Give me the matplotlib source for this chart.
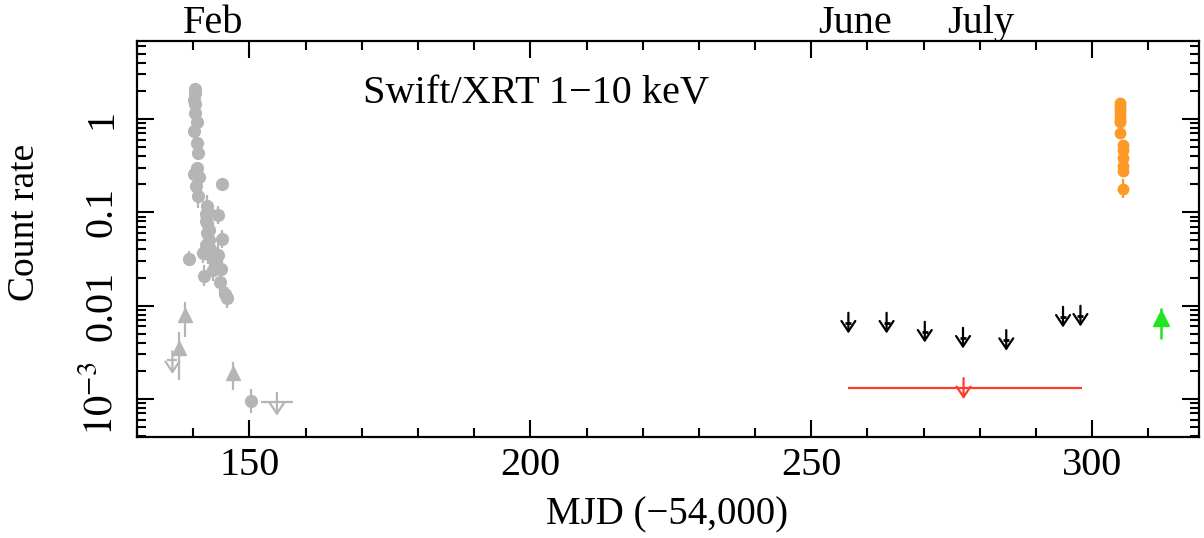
import numpy as np
import matplotlib
matplotlib.use("Agg")
import matplotlib.pyplot as plt
from matplotlib.ticker import FixedLocator, FuncFormatter, MultipleLocator, LogLocator, NullFormatter
import matplotlib.transforms as mtransforms

plt.rcParams['font.family'] = ['Liberation Serif', 'DejaVu Serif']
plt.rcParams['mathtext.fontset'] = 'stix'

# ---- data (MJD-54000, count rate) ----
grey_t = [140.3, 140.4, 140.2, 140.3, 140.3, 140.6, 140.2, 140.6, 140.9, 140.6,
          140.1, 141.0, 140.5, 140.8, 145.2, 142.5, 142.2, 144.5, 142.5, 142.5,
          142.9, 145.2, 139.3, 141.8, 142.6, 143.5, 144.4, 142.0, 143.5, 145.0,
          144.7, 145.7, 146.0, 142.3, 143.0, 144.0, 143.8, 142.8, 142.3, 142.7,
          150.3]
grey_v = [2.1, 1.9, 1.6, 1.45, 1.15, 0.92, 0.74, 0.56, 0.43, 0.30,
          0.26, 0.24, 0.19, 0.15, 0.20, 0.118, 0.097, 0.094, 0.076, 0.060,
          0.050, 0.052, 0.032, 0.037, 0.036, 0.033, 0.035, 0.021, 0.024, 0.0245,
          0.018, 0.0135, 0.0122, 0.045, 0.040, 0.030, 0.028, 0.065, 0.080, 0.100,
          0.00095]
grey_rel = [0.05, 0.05, 0.05, 0.05, 0.06, 0.07, 0.07, 0.08, 0.08, 0.10,
            0.10, 0.10, 0.12, 0.35, 0.15, 0.30, 0.25, 0.25, 0.25, 0.25,
            0.25, 0.25, 0.20, 0.30, 0.30, 0.30, 0.30, 0.30, 0.30, 0.30,
            0.35, 0.30, 0.30, 0.30, 0.30, 0.30, 0.30, 0.30, 0.30, 0.30,
            0.35]

grey_tri_t = [138.5, 137.4, 147.0]
grey_tri_v = [0.0079, 0.00354, 0.00188]
grey_tri_lo = [0.0046, 0.0016, 0.00124]
grey_tri_hi = [0.0110, 0.0052, 0.0025]

grey_ul_t = [136.3, 154.9]
grey_ul_v = [0.0026, 0.00093]
grey_ul_xlo = [135.3, 152.1]
grey_ul_xhi = [137.2, 157.8]

orange_t = [305.0, 305.0, 305.0, 305.0, 305.0, 305.0, 305.0, 304.9, 305.5, 305.5,
            305.4, 305.4, 305.4, 305.4]
orange_v = [1.48, 1.38, 1.28, 1.18, 1.07, 0.97, 0.93, 0.70, 0.53, 0.47,
            0.38, 0.31, 0.28, 0.18]
orange_rel = [0.04, 0.04, 0.04, 0.04, 0.04, 0.05, 0.05, 0.06, 0.07, 0.07,
              0.08, 0.08, 0.09, 0.25]

black_ul_t = [256.6, 263.4, 270.2, 277.0, 284.7, 294.8, 297.9]
black_ul_v = [0.00656, 0.00656, 0.00525, 0.00453, 0.00428, 0.0076, 0.0078]

red_ul_t = 277.1
red_ul_v = 0.0013
red_ul_xlo = 256.5
red_ul_xhi = 298.1

green_t = [312.3]
green_v = [0.0073]
green_lo = [0.0044]
green_hi = [0.0095]

month_names = ['Feb', 'June', 'July']
month_t = [143.6, 257.8, 280.2]

yticks = [1e-3, 1e-2, 1e-1, 1.0]
ytick_labels = ['$10^{-3}$', '0.01', '0.1', '1']
xticks = [150, 200, 250, 300]

GREY = '#b5b5b5'
ORANGE = '#fd9a26'
RED = '#ff3b2b'
GREEN = '#1fe61f'

fig = plt.figure(figsize=(12.04, 5.38), dpi=100)
ax = fig.add_axes([137/1204, 1-437/538, (1199-137)/1204, (437-41)/538])
ax.set_yscale('log')
ax.set_xlim(130, 319)
ax.set_ylim(3.92e-4, 6.85)

def ul_arrow(x, v, color, up=1.28, down=1.30, lw=1.6):
    ax.annotate('', xy=(x, v/down), xytext=(x, v*up),
                arrowprops=dict(arrowstyle='->,head_length=0.75,head_width=0.5',
                                color=color, lw=lw, shrinkA=0, shrinkB=0,
                                mutation_scale=10))

# grey circles
gv = np.array(grey_v); gr = np.array(grey_rel)
ax.errorbar(grey_t, gv, yerr=[gv - gv/(1+gr), gv*gr], fmt='o', color=GREY,
            ms=8.5, elinewidth=1.6, capsize=0, mec=GREY, zorder=3)
# grey triangles
tv = np.array(grey_tri_v)
ax.errorbar(grey_tri_t, tv, yerr=[tv - np.array(grey_tri_lo), np.array(grey_tri_hi) - tv],
            fmt='^', color=GREY, ms=10, elinewidth=1.6, capsize=0, zorder=3)
# grey upper limits
for t, v, xl, xh in zip(grey_ul_t, grey_ul_v, grey_ul_xlo, grey_ul_xhi):
    ax.hlines(v, xl, xh, color=GREY, lw=1.6)
    ul_arrow(t, v, GREY, up=1.25, down=1.40)

# orange
ov = np.array(orange_v); orr = np.array(orange_rel)
ax.errorbar(orange_t, ov, yerr=[ov - ov/(1+orr), ov*orr], fmt='o', color=ORANGE,
            ms=7.5, elinewidth=1.6, capsize=0, zorder=3)

# black upper limits
for t, v in zip(black_ul_t, black_ul_v):
    ax.plot([t], [v], marker='_', color='black', ms=4, mew=2)
    ul_arrow(t, v, 'black')

# red upper limit
ax.hlines(red_ul_v, red_ul_xlo, red_ul_xhi, color=RED, lw=1.6)
ul_arrow(red_ul_t, red_ul_v, RED, up=1.29, down=1.30)

# green
gnv = np.array(green_v)
ax.errorbar(green_t, gnv, yerr=[gnv - np.array(green_lo), np.array(green_hi) - gnv],
            fmt='^', color=GREEN, ms=11, elinewidth=1.8, capsize=0, zorder=3)

# axes styling
for s in ax.spines.values():
    s.set_linewidth(1.6)
ax.xaxis.set_major_locator(FixedLocator(xticks))
ax.xaxis.set_minor_locator(MultipleLocator(10))
ax.yaxis.set_major_locator(FixedLocator(yticks))
ax.yaxis.set_minor_locator(LogLocator(base=10, subs=np.arange(2, 10)))
ax.yaxis.set_minor_formatter(NullFormatter())
ax.yaxis.set_major_formatter(FuncFormatter(lambda v, p: dict(zip(yticks, ytick_labels)).get(v, '')))
ax.tick_params(which='both', direction='in', top=True, right=True, width=1.5)
ax.tick_params(which='major', length=12.5)
ax.tick_params(which='minor', length=6.5)
ax.tick_params(axis='x', labelsize=29, pad=7)
ax.tick_params(axis='y', labelsize=29, pad=12, labelrotation=90)
for lab in ax.get_yticklabels():
    lab.set_va('center')

ax.text(201, 0.843, 'Swift/XRT 1\u221210 keV', transform=ax.get_xaxis_transform(),
        ha='center', va='baseline', fontsize=29)

trans = mtransforms.blended_transform_factory(ax.transData, fig.transFigure)
for name, t in zip(month_names, month_t):
    ax.text(t, 1 - 33/538, name, transform=trans, ha='center', va='baseline', fontsize=29)

fig.text(25/1204, 1 - 222/538, 'Count rate', rotation=90, ha='center', va='center', fontsize=27)
fig.text(667/1204, 1 - 515/538, 'MJD (\u221254,000)', ha='center', va='center', fontsize=28)

fig.savefig('out.png', dpi=100)
